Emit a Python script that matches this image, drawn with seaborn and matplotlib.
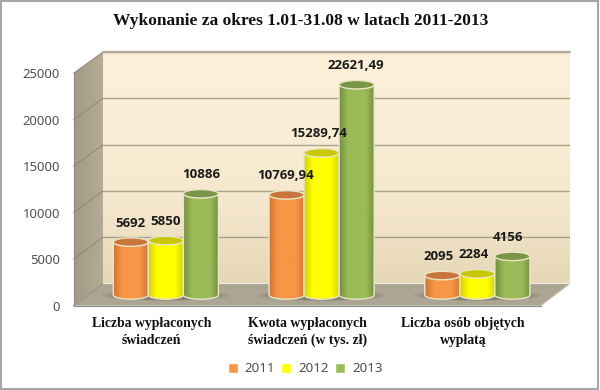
import numpy as np
import pandas as pd
import matplotlib
matplotlib.use('Agg')
import matplotlib.pyplot as plt
import seaborn as sns
from matplotlib.colors import LinearSegmentedColormap
from matplotlib.patches import Ellipse, PathPatch, Polygon, Rectangle
from matplotlib.path import Path

# --- Data ---
CATEGORIES = ['Liczba wypłaconych\nświadczeń', 'Kwota wypłaconych\nświadczeń (w tys. zł)', 'Liczba osób objętych\nwypłatą']
YEARS = ['2011', '2012', '2013']
VALUES_2011 = [5692, 10769.94, 2095]
VALUES_2012 = [5850, 15289.74, 2284]
VALUES_2013 = [10886, 22621.49, 4156]
Y_TICKS = [0, 5000, 10000, 15000, 20000, 25000]
TITLE = 'Wykonanie za okres 1.01-31.08 w latach 2011-2013'

COLORS = ['#f79646', '#ffff00', '#9bbb59']
EDGE_COLORS = ['#cf7433', '#d2d200', '#748f3e']
CAP_COLORS = ['#c9763c', '#c8c800', '#7a9548']

# --- Layout in pixels of the 600x390 picture ---
W, H = 600, 390
FRONT = (73.5, 540.7, 73.3, 305.7)  # left, right, top, bottom
BACK = (103, 570, 52, 283.5)
PX = 25000 / (FRONT[3] - FRONT[2])  # value units per pixel
BASE_DX, BASE_Y, BELOW = 14.5, 295, 14


def axes_at(left, right, top, bottom, **kw):
    return fig.add_axes([left / W, 1 - bottom / H, (right - left) / W, (bottom - top) / H], **kw)


df = pd.DataFrame({
    'category': CATEGORIES * 3,
    'year': [y for y in YEARS for _ in CATEGORIES],
    'value': VALUES_2011 + VALUES_2012 + VALUES_2013,
})

sns.set_theme(style='white')
fig = plt.figure(figsize=(6, 3.9), dpi=100)

# --- Frame, side wall, floor ---
bg = fig.add_axes([0, 0, 1, 1])
bg.set_xlim(0, W)
bg.set_ylim(H, 0)
bg.axis('off')
bg.add_patch(Rectangle((1, 0.7), W - 3.5, H - 1.5, fc='white', ec='#a6a6a6', lw=1.5))

side = bg.imshow(np.linspace(0, 1, 40).reshape(1, -1), extent=(FRONT[0], BACK[0], H, 0), aspect='auto',
                 cmap=LinearSegmentedColormap.from_list('side', ['#a39a86', '#b5ac97']), zorder=2)
side_poly = Polygon([(FRONT[0], FRONT[2]), (BACK[0], BACK[2]), (BACK[0], BACK[3]), (FRONT[0], FRONT[3])],
                    fc='none', ec='none', zorder=2)
bg.add_patch(side_poly)
side.set_clip_path(side_poly)
bg.set_xlim(0, W)
bg.set_ylim(H, 0)

bg.add_patch(Polygon([(FRONT[0], FRONT[3]), (BACK[0], BACK[3]), (BACK[1], BACK[3]), (FRONT[1], FRONT[3])],
                     fc='#aca594', ec='#c9c3b3', lw=0.8, zorder=3))
for t in Y_TICKS:
    yf = FRONT[3] - t / PX
    yb = BACK[3] - t * (BACK[3] - BACK[2]) / 25000
    bg.plot([FRONT[0], BACK[0]], [yf, yb], color='#8f8874', lw=0.7, zorder=4)

# --- Back wall ---
wall = axes_at(BACK[0], BACK[1], BACK[2], BACK[3])
wall_cmap = LinearSegmentedColormap.from_list('wall', ['#e6d7b6', '#f5e7cd', '#fbeed6', '#fdefd8'])
wall.imshow(np.linspace(0, 1, 100).reshape(-1, 1), extent=(0, 1, 0, 25000), origin='lower', aspect='auto', cmap=wall_cmap)
wall.set_xlim(0, 1)
wall.set_ylim(0, 25000)
wall.set_yticks(Y_TICKS)
wall.set_xticks([])
wall.set_yticklabels([])
wall.grid(True, axis='y', color='#a9a18d', lw=1.0)
wall.tick_params(length=0)
sns.despine(ax=wall, left=True, right=True, bottom=True, top=True)
wall.plot([0, 1], [25000, 25000], color='#b3ab96', lw=1.6, clip_on=False)

# --- Front plane: axis, ticks and labels ---
front = axes_at(FRONT[0], FRONT[1], FRONT[2], FRONT[3], facecolor='none')
front.set_xlim(-0.5, 2.5)
front.set_ylim(0, 25000)
front.set_yticks(Y_TICKS)
front.set_yticklabels([str(t) for t in Y_TICKS], fontfamily='Noto Sans', fontsize=9.4, color='#505050')
front.set_xticks(range(3))
front.set_xticklabels(CATEGORIES, fontfamily='Liberation Serif', fontweight='bold', fontsize=9.9,
                      color='#111111', linespacing=1.4)
front.set_xticks([-0.5, 0.5, 1.5, 2.5], minor=True)
front.tick_params(axis='x', which='major', length=0, pad=8)
front.tick_params(axis='x', which='minor', length=3, width=0.8, color='#8a8a8a')
front.tick_params(axis='y', length=3.2, width=0.8, color='#8a8a8a', pad=6.5)
for name, spine in front.spines.items():
    spine.set_visible(name in ('left', 'bottom'))
    spine.set_color('#8a8a8a')
    spine.set_linewidth(0.8)

# --- Cylinders ---
ax = axes_at(FRONT[0] + BASE_DX, FRONT[1] + BASE_DX, BASE_Y - (FRONT[3] - FRONT[2]) - 12, BASE_Y + BELOW, facecolor='none')
sns.barplot(data=df, x='category', y='value', hue='year', palette=COLORS, order=CATEGORIES, hue_order=YEARS,
            width=0.675, gap=0, saturation=1, errorbar=None, ax=ax)
ax.set_xlim(-0.5, 2.5)
ax.set_ylim(-BELOW * PX, 25000 + 12 * PX)

cap_h = 8.5 * PX
for g in range(3):
    for k, alpha in [(1.0, 0.12), (0.9, 0.2), (0.8, 0.3)]:
        ax.add_patch(Ellipse((g, -0.5 * PX), 0.82 * k, 11 * k * PX, fc='#5f5a4e', ec='none', alpha=alpha, zorder=1))

label_dx = {(0, 0): 0, (0, 1): 0, (0, 2): 0, (1, 0): -1, (1, 1): -3, (1, 2): -1, (2, 0): -4, (2, 1): -4, (2, 2): -4}
for i, container in enumerate(ax.containers):
    cmap = LinearSegmentedColormap.from_list(f'cyl{i}', [EDGE_COLORS[i], COLORS[i], COLORS[i], COLORS[i], EDGE_COLORS[i]])
    for j, bar in enumerate(container):
        x, w, h = bar.get_x(), bar.get_width(), bar.get_height()
        bar.set_visible(False)
        k = 0.5523
        b = cap_h / 2
        outline = Path(
            [(x, h), (x, 0),
             (x, -k * b), (x + w / 2 - k * w / 2, -b), (x + w / 2, -b),
             (x + w / 2 + k * w / 2, -b), (x + w, -k * b), (x + w, 0),
             (x + w, h), (x, h)],
            [Path.MOVETO, Path.LINETO, Path.CURVE4, Path.CURVE4, Path.CURVE4,
             Path.CURVE4, Path.CURVE4, Path.CURVE4, Path.LINETO, Path.CLOSEPOLY])
        z = 3 + i * 0.1
        patch = PathPatch(outline, fc='none', ec='#e9e6c8', lw=1.0, zorder=z + 0.02)
        ax.add_patch(patch)
        im = ax.imshow(np.linspace(0, 1, 60).reshape(1, -1), extent=(x, x + w, -b, h), aspect='auto', cmap=cmap, zorder=z)
        im.set_clip_path(patch)
        ax.add_patch(Ellipse((x + w / 2, h), w, cap_h, fc=CAP_COLORS[i], ec='#e9e6c8', lw=1.0, zorder=z + 0.04))
        label = f'{h:.2f}'.replace('.', ',') if h % 1 else f'{h:.0f}'
        ax.annotate(label, (x + w / 2, h), xytext=(label_dx[(j, i)] * 0.72, 19 * 0.72), textcoords='offset points',
                    ha='center', va='center', fontfamily='Open Sans', fontweight='bold', fontsize=9.5,
                    color='#1a1a1a', zorder=6)
ax.set_xlim(-0.5, 2.5)
ax.set_ylim(-BELOW * PX, 25000 + 12 * PX)
ax.axis('off')

sns.move_legend(ax, 'center', bbox_to_anchor=(305 / W, 1 - 369 / H), bbox_transform=fig.transFigure, ncol=3,
                frameon=False, title=None, handlelength=0.75, handleheight=0.75, handletextpad=0.5, columnspacing=0.5,
                prop={'family': 'Noto Sans', 'size': 9.6}, labelcolor='#505050')

fig.text(300.5 / W, 1 - 21 / H, TITLE, ha='center', va='center', fontfamily='Liberation Serif', fontweight='bold',
         fontsize=12.5, color='#111111')

fig.savefig('out.png', dpi=100)
